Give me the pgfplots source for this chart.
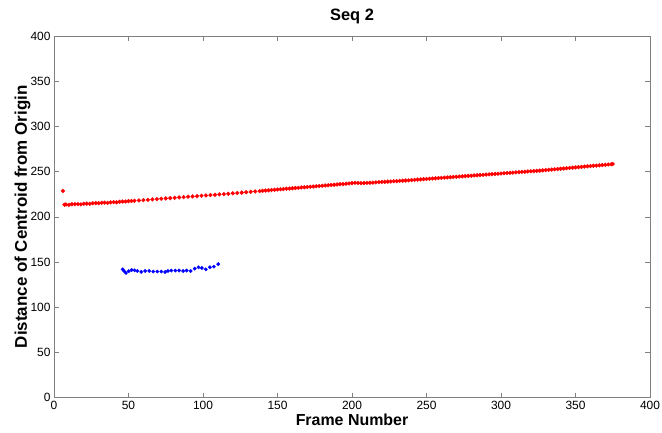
\documentclass[border=0pt]{standalone}
\usepackage{pgfplots}
\pgfplotsset{compat=1.18}
\usepackage{fontspec}
\setmainfont{Liberation Sans}
\definecolor{axgray}{RGB}{128,128,128}

\begin{document}
\begin{tikzpicture}
\useasboundingbox (-54bp,-35.5bp) rectangle (608bp,397.5bp);
\begin{axis}[
    at={(0,0)}, anchor=south west,
    scale only axis,
    width=596bp, height=361.5bp,
    xmin=0, xmax=400, ymin=0, ymax=400,
    xtick={0,50,...,400}, ytick={0,50,...,400},
    tick align=inside,
    major tick length=5bp,
    axis line style={axgray},
    tick style={axgray},
    /pgf/number format/assume math mode=true,
    tick label style={font=\fontsize{12}{14}\selectfont, text=black},
    title={\textbf{Seq 2}},
    title style={font=\fontsize{16.5}{18}\selectfont, at={(axis description cs:0.5,1)}, anchor=base, yshift=10bp},
    xlabel={\textbf{Frame Number}},
    xlabel style={font=\fontsize{16}{18}\selectfont, at={(axis description cs:0.5,0)}, anchor=base, yshift=-27.5bp},
    ylabel={\textbf{Distance of Centroid from Origin}},
    ylabel style={font=\fontsize{17}{19}\selectfont, at={(axis description cs:-0.0453,0.5)}, anchor=base},
]
% red series
\addplot[only marks, mark=*, mark size=1.9bp, color=red, mark options={draw=red, fill=red}] coordinates {
(6,228.5) (7,213.3) (8,213.6) (10,213.2) (12,213.8) (14,213.9) (16,214.0) (18,213.7)
(20,214.4) (22,214.5) (24,214.3) (26,214.9) (28,215.1) (30,215.0) (32,215.4) (34,215.6)
(36,215.4) (38,215.9) (40,216.2) (42,216.0) (44,216.5) (46,216.8) (48,216.9) (50,217.3)
(52,217.4) (54,217.6)
(57,218.0) (60,218.4) (63,218.7) (66,219.2) (69,219.5) (72,219.9) (75,220.3) (78,220.6)
(81,220.9) (84,221.4) (87,221.7) (90,222.2) (93,222.5) (96,222.8) (99,223.3) (102,223.6)
(105,224.0) (108,224.3) (111,224.7) (114,225.0) (117,225.4) (120,225.9) (123,226.3)
(126,226.7) (129,227.2) (132,227.6) (135,228.0) (138,228.4)
(140,228.7) (142,229.0) (144,229.2) (146,229.6) (148,229.8) (150,230.1) (152,230.4)
(154,230.6) (156,231.0) (158,231.2) (160,231.5) (162,231.8) (164,232.0) (166,232.4)
(168,232.6) (170,232.9) (172,233.2) (174,233.4) (176,233.8) (178,234.0) (180,234.3)
(182,234.6) (184,234.8) (186,235.2) (188,235.4) (190,235.7) (192,236.0) (194,236.2)
(196,236.6) (198,236.8) (200,237.2) (202,237.6) (204,237.4) (206,237.2) (208,237.3)
(210,237.5) (212,237.6) (214,237.8) (216,238.0) (218,238.3) (220,238.5) (222,238.6)
(224,238.9) (226,239.0) (228,239.3) (230,239.4) (232,239.7) (234,239.9) (236,240.1)
(238,240.3) (240,240.6) (242,240.8) (244,241.1) (246,241.3) (248,241.6) (250,241.8)
(252,242.0) (254,242.3) (256,242.5) (258,242.8) (260,243.0) (262,243.3) (264,243.5)
(266,243.7) (268,244.0) (270,244.2) (272,244.5) (274,244.7) (276,245.0) (278,245.2)
(280,245.4) (282,245.7) (284,245.9) (286,246.2) (288,246.4) (290,246.7) (292,246.9)
(294,247.1) (296,247.4) (298,247.6) (300,247.9) (302,248.1) (304,248.4) (306,248.6)
(308,248.8) (310,249.1) (312,249.3) (314,249.6) (316,249.8) (318,250.1) (320,250.3)
(322,250.5) (324,250.8) (326,251.0) (328,251.3) (330,251.6) (332,251.9) (334,252.2)
(336,252.5) (338,252.8) (340,253.1) (342,253.4) (344,253.7) (346,254.0) (348,254.3)
(350,254.6) (352,254.9) (354,255.2) (356,255.5) (358,255.8) (360,256.1) (362,256.4)
(364,256.6) (366,256.9) (368,257.2) (370,257.5) (372,257.8) (374,258.1) (375,258.3)
};
% blue series
\addplot[only marks, mark=*, mark size=1.7bp, color=blue, mark options={draw=blue, fill=blue}] coordinates {
(46.1,141.8) (47.2,139.6) (48.3,137.8) (50.1,139.8) (52.1,141.0) (54.1,140.7) (55.9,140.0)
(58.6,139.0) (61.2,140.0) (63.9,140.0) (66.6,139.4) (69.3,139.4) (72.0,139.4) (74.6,138.8)
(76.5,140.0) (78.7,140.5) (81.4,140.5) (84.0,140.5) (86.7,140.0) (89.0,140.5) (91.7,140.0)
(94.4,142.6) (97.0,144.1) (99.3,143.3) (101.9,141.8) (104.6,144.1) (107.3,144.8) (110.2,147.6)
};
\end{axis}
\end{tikzpicture}
\end{document}
